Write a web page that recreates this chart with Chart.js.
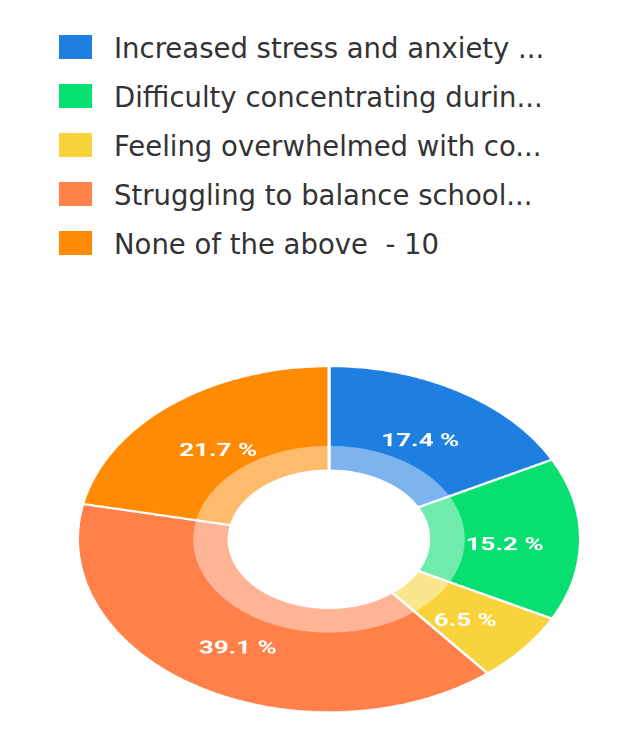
<!DOCTYPE html>
<html>
<head>
<meta charset="utf-8">
<script src="https://cdn.jsdelivr.net/npm/chart.js@4/dist/chart.umd.min.js"></script>
<style>
  body {
    margin: 0;
    background: #ffffff;
    width: 633px;
    height: 737px;
    overflow: hidden;
    position: relative;
  }
  #legend {
    position: absolute;
    left: 59px;
    top: 22px;
    margin: 0;
    padding: 0;
    list-style: none;
  }
  #legend li {
    display: flex;
    align-items: center;
    height: 49px;
  }
  #legend .box {
    width: 33px;
    height: 24px;
    margin-right: 22px;
    flex: none;
  }
  #legend .text {
    font-family: "DejaVu Sans", sans-serif;
    font-size: 27.5px;
    color: #333333;
    white-space: pre;
    position: relative;
    top: 1px;
  }
  #chartWrap {
    position: absolute;
    left: 76px;
    top: 365px;
    width: 506px;
    height: 506px;
    transform: scaleY(0.6885);
    transform-origin: 0 0;
  }
</style>
</head>
<body>
<ul id="legend"></ul>
<div id="chartWrap">
  <canvas id="canvas" width="506" height="506"></canvas>
</div>
<script>
const categories = [
  "Increased stress and anxiety",
  "Difficulty concentrating during online classes",
  "Feeling overwhelmed with coursework",
  "Struggling to balance schoolwork and home life",
  "None of the above",
];
const counts = [8, 7, 3, 18, 10];
const colors = ["#1f7fe0", "#07df71", "#f9d33b", "#ff8049", "#ff8a03"];

const total = counts.reduce((a, b) => a + b, 0);
const percents = counts.map((c) => ((c / total) * 100).toFixed(1));

// cut a legend line down so it fits on one row
const legendWidth = 436;
const measure = document.createElement("canvas").getContext("2d");
function fitText(text) {
  measure.font = '27.5px "DejaVu Sans"';
  const w = (s) => measure.measureText(s).width;
  if (w(text) <= legendWidth) return text;
  let cut = text;
  while (cut.length > 0 && w(cut + "...") > legendWidth) {
    cut = cut.slice(0, -1);
  }
  return cut + "...";
}

// lighter band around the hole
const innerBand = {
  id: "innerBand",
  afterDatasetsDraw(chart) {
    const ctx = chart.ctx;
    const arc = chart.getDatasetMeta(0).data[0];
    const r = arc.innerRadius;
    ctx.save();
    ctx.beginPath();
    ctx.arc(arc.x, arc.y, r + 36, 0, Math.PI * 2);
    ctx.arc(arc.x, arc.y, r, 0, Math.PI * 2, true);
    ctx.fillStyle = "rgba(255, 255, 255, 0.42)";
    ctx.fill();
    ctx.restore();
  },
};

// percent text on every slice
const sliceLabels = {
  id: "sliceLabels",
  afterDatasetsDraw(chart) {
    const ctx = chart.ctx;
    ctx.save();
    ctx.font = "bold 26px Roboto";
    ctx.fillStyle = "#ffffff";
    ctx.textAlign = "center";
    ctx.textBaseline = "middle";
    chart.getDatasetMeta(0).data.forEach((arc, i) => {
      const p = arc.getCenterPoint();
      ctx.fillText(percents[i] + " %", p.x, p.y + 9);
    });
    ctx.restore();
  },
};

const ctx = document.getElementById("canvas").getContext("2d");
const myChart = new Chart(ctx, {
  type: "doughnut",
  data: {
    labels: categories,
    datasets: [
      {
        data: counts,
        backgroundColor: colors,
        borderColor: "#ffffff",
        borderWidth: 3,
      },
    ],
  },
  options: {
    responsive: false,
    animation: false,
    cutout: "39.7%",
    layout: { padding: 0 },
    plugins: {
      legend: { display: false },
      tooltip: { enabled: false },
    },
  },
  plugins: [innerBand, sliceLabels],
});

// legend list built from the chart's own legend items
let legend = document.getElementById("legend");
myChart.options.plugins.legend.labels
  .generateLabels(myChart)
  .forEach((item) => {
    let li = document.createElement("li");
    let box = document.createElement("span");
    box.className = "box";
    box.style.background = item.fillStyle;
    let text = document.createElement("span");
    text.className = "text";
    text.innerText = fitText(`${item.text}  - ${counts[item.index]}`);
    li.appendChild(box);
    li.appendChild(text);
    legend.appendChild(li);
  });
</script>
</body>
</html>
